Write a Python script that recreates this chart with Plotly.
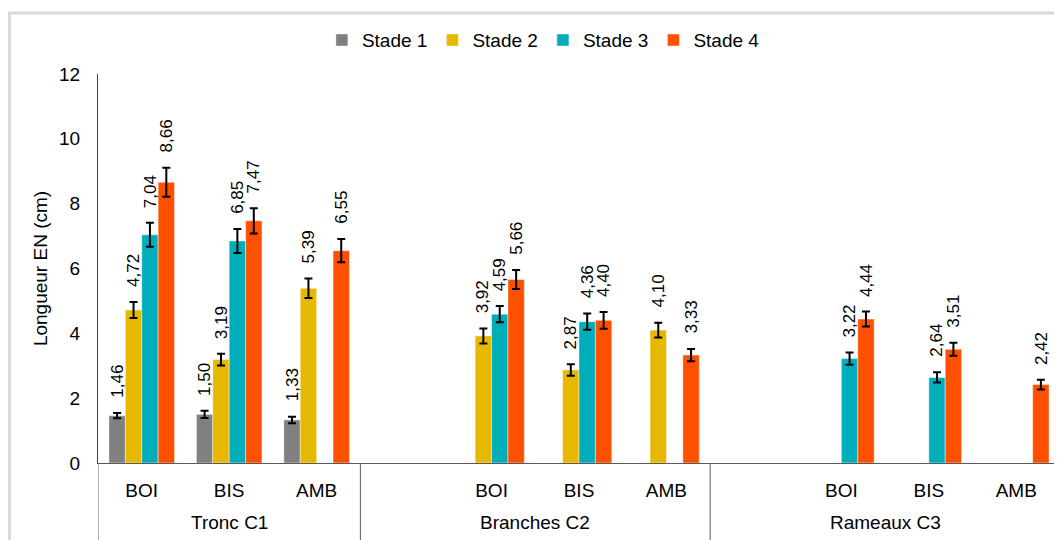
import plotly.graph_objects as go

groups = ["Tronc C1"] * 3 + ["Branches C2"] * 4 + ["Rameaux C3"] * 4
subs = ["BOI", "BIS", "AMB", "", "BOI", "BIS", "AMB", "", "BOI", "BIS", "AMB"]

series_names = ["Stade 1", "Stade 2", "Stade 3", "Stade 4"]
colors = ["#808080", "#E6B800", "#00ADBA", "#FF5000"]

stade1 = [1.46, 1.50, 1.33, None, None, None, None, None, None, None, None]
stade2 = [4.72, 3.19, 5.39, None, 3.92, 2.87, 4.10, None, None, None, None]
stade3 = [7.04, 6.85, None, None, 4.59, 4.36, None, None, 3.22, 2.64, None]
stade4 = [8.66, 7.47, 6.55, None, 5.66, 4.40, 3.33, None, 4.44, 3.51, 2.42]

err1 = [0.08, 0.11, 0.10, None, None, None, None, None, None, None, None]
err2 = [0.25, 0.18, 0.30, None, 0.23, 0.18, 0.23, None, None, None, None]
err3 = [0.37, 0.37, None, None, 0.25, 0.25, None, None, 0.19, 0.16, None]
err4 = [0.45, 0.39, 0.36, None, 0.29, 0.26, 0.19, None, 0.23, 0.20, 0.15]

values = [stade1, stade2, stade3, stade4]
errors = [err1, err2, err3, err4]

FONT = "Liberation Sans, Arial, sans-serif"
BARGAP = 0.25
n_cat = len(subs)
n_ser = len(series_names)
idx = list(range(n_cat))

fig = go.Figure()
for name, col, vals, errs in zip(series_names, colors, values, errors):
    fig.add_trace(go.Bar(
        x=idx,
        y=vals,
        name=name,
        marker=dict(color=col, line=dict(color="rgba(255,255,255,0.45)", width=1)),
        error_y=dict(type="data", array=[e if e is not None else 0 for e in errs],
                     visible=True, color="#000000", thickness=2, width=4),
    ))

annotations = []
slot = (1 - BARGAP) / n_ser
for j, (vals, errs) in enumerate(zip(values, errors)):
    for i, (v, e) in enumerate(zip(vals, errs)):
        if v is None:
            continue
        xpos = i + (j - (n_ser - 1) / 2) * slot
        annotations.append(dict(
            x=xpos, xref="x",
            y=v + (e or 0), yref="y",
            text=f"{v:.2f}".replace(".", ","),
            textangle=-90, showarrow=False,
            xanchor="center", yanchor="bottom", yshift=13,
            font=dict(family=FONT, size=17, color="#000000"),
        ))

# outer frame, group labels and dividers
shapes = [dict(type="rect", xref="paper", yref="paper",
               x0=-0.092, x1=1.2, y0=-0.5, y1=1.157,
               line=dict(color="#D9D9D9", width=3), layer="below")]
group_order = []
for g in groups:
    if g not in group_order:
        group_order.append(g)
for g in group_order:
    members = [i for i, gg in enumerate(groups) if gg == g]
    annotations.append(dict(
        x=(members[0] + members[-1]) / 2, xref="x",
        y=0, yref="paper", yshift=-59, yanchor="middle",
        text=g, showarrow=False,
        font=dict(family=FONT, size=19, color="#000000"),
    ))
    shapes.append(dict(
        type="line", xref="x", yref="paper",
        x0=members[0] - 0.5, x1=members[0] - 0.5, y0=0, y1=-0.2,
        line=dict(color="#595959", width=1),
    ))

fig.update_layout(
    width=1054, height=532,
    margin=dict(l=90, r=2, t=66, b=77),
    paper_bgcolor="white", plot_bgcolor="white",
    barmode="group", bargap=BARGAP, bargroupgap=0,
    font=dict(family=FONT, size=19, color="#000000"),
    legend=dict(orientation="h", x=0.463, xanchor="center", y=1.087, yanchor="middle",
                font=dict(family=FONT, size=19), itemwidth=30, traceorder="normal"),
    annotations=annotations,
    shapes=shapes,
)
fig.update_xaxes(
    range=[-0.5, n_cat - 0.5], automargin=False,
    tickmode="array", tickvals=idx, ticktext=subs,
    showline=True, linecolor="#595959", linewidth=1,
    ticks="", showgrid=False, zeroline=False,
    tickfont=dict(family=FONT, size=19, color="#000000"),
    ticklabelstandoff=10,
)
fig.update_yaxes(
    range=[0, 12], dtick=2, showgrid=False, zeroline=False, automargin=False,
    showline=True, linecolor="#404040", linewidth=1, ticks="",
    tickfont=dict(family=FONT, size=19, color="#000000"),
    ticklabelstandoff=13,
    title=dict(text="Longueur EN (cm)", font=dict(family=FONT, size=19, color="#000000"), standoff=6),
)

fig.write_html("out.html")
